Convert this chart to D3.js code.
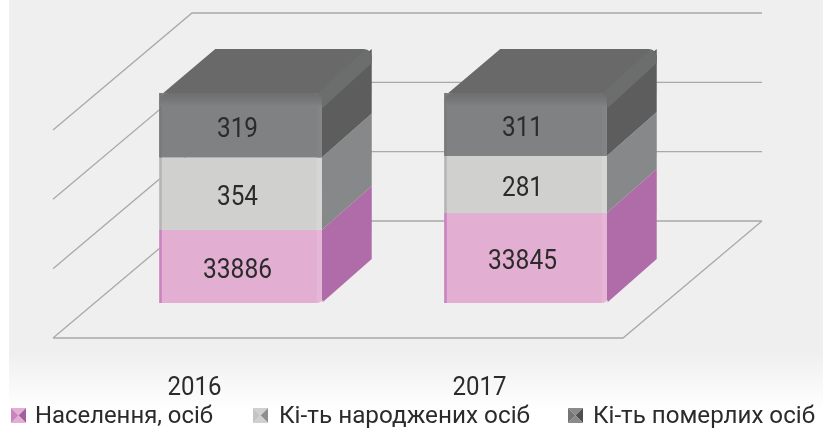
<!DOCTYPE html>
<html><head><meta charset="utf-8">
<script src="https://cdn.jsdelivr.net/npm/d3@7"></script>
<style>html,body{margin:0;padding:0;background:#fff;overflow:hidden}svg{display:block;filter:blur(.5px)}</style>
</head><body><div id="c"></div>
<script>
const categories=["2016","2017"];
const seriesNames=["Населення, осіб","Кі-ть народжених осіб","Кі-ть померлих осіб"];
const population=[33886,33845];
const births=[354,281];
const deaths=[319,311];
// the reference's bars are full-height stacks whose segments do not follow the printed labels;
// these are the segment shares (%)
const populationShare=[34.8,42.9];
const birthsShare=[34.5,27.1];
const deathsShare=[30.7,30.0];
const gridLevels=[0,1,2,3];
const W=823,H=429;
const svg=d3.select("#c").append("svg").attr("width",W).attr("height",H);
const defs=svg.append("defs");
const bg=defs.append("linearGradient").attr("id","bg").attr("x1",0).attr("x2",0).attr("y1",0).attr("y2",1);
bg.append("stop").attr("offset",.82).attr("stop-color","#efefef");
bg.append("stop").attr("offset",.96).attr("stop-color","#ffffff");
const bevel=defs.append("linearGradient").attr("id","bevel").attr("x1",0).attr("x2",0).attr("y1",0).attr("y2",1);
bevel.append("stop").attr("offset",0).attr("stop-color","#6d6e6e");
bevel.append("stop").attr("offset",.5).attr("stop-color","#757676");
bevel.append("stop").attr("offset",1).attr("stop-color","#808182");
svg.append("rect").attr("x",9).attr("y",0).attr("width",W-9).attr("height",H).attr("fill","url(#bg)");

const x=d3.scaleBand().domain(categories).range([53,623]).paddingInner(.43).paddingOuter(.215);
const y=d3.scaleLinear().domain([0,100]).range([303,93]);
const gy=d3.scaleLinear().domain([0,3]).range([221,13]);
const dx=139,dy=117,bx=50,by=44,off=45;
const FONT="Roboto";

const grid=svg.append("g").attr("stroke","#a9a9a9").attr("stroke-width",1.3).attr("fill","none");
gridLevels.forEach(l=>{
  const yy=gy(l);
  grid.append("path").attr("d",`M${53},${yy+dy}L${53+dx},${yy}L${623+dx},${yy}`);
});
grid.append("path").attr("d",`M53,${gy(0)+dy}L623,${gy(0)+dy}L${623+dx},${gy(0)}`);

const series=[
 {share:populationShare,label:population,front:"#e2aed1",side:"#b06ca8",edge:"#c884bf",hi:"#e6b6d6"},
 {share:birthsShare,label:births,front:"#d0d0cf",side:"#87888a",edge:"#b5b5b5",hi:"#d6d6d5"},
 {share:deathsShare,label:deaths,front:"#808182",side:"#5d5d5d",edge:"#787979",hi:"#838485"}
];
const stack=categories.map((c,i)=>{let acc=0;return series.map((s,k)=>{const a=acc;acc+=s.share[i];return {c,i,k,s,a,b:acc,label:s.label[i]};});});
const g=svg.append("g");
stack.forEach(col=>{
  const cg=g.append("g");
  const L=x(col[0].c)+off,w=x.bandwidth(),R=L+w;
  const yt=y(100),yb=y(0);
  col.forEach(d=>{
    const y0=y(d.a),y1=y(d.b);
    cg.append("path").attr("fill",d.s.side).attr("d",`M${R},${y0}L${R+bx},${y0-by}L${R+bx},${y1-by}L${R},${y1}Z`);
    cg.append("rect").attr("x",L).attr("y",y1).attr("width",w).attr("height",y0-y1).attr("fill",d.s.front);
    cg.append("rect").attr("x",L).attr("y",y1).attr("width",2.5).attr("height",y0-y1).attr("fill",d.s.edge);
    cg.append("rect").attr("x",R-5).attr("y",y1).attr("width",5).attr("height",y0-y1).attr("fill",d.s.hi);
  });
  // top face
  cg.append("path").attr("fill","#696969").attr("d",`M${L+4},${yt}L${L+bx+6},${yt-by}L${R+bx-8},${yt-by}Q${R+bx},${yt-by} ${R+bx},${yt-by+10}L${R+4},${yt+6}L${R-4},${yt}Z`);
  // bevel along the right-hand top edge
  cg.append("path").attr("fill","#6c6d6d").attr("d",`M${R-5},${yt+1}L${R+bx-7},${yt-by+1}Q${R+bx},${yt-by+1} ${R+bx},${yt-by+10}L${R+bx},${yt-by+14}L${R+1},${yt+15}Z`);
  // bevel along the front top edge
  cg.append("path").attr("fill","url(#bevel)").attr("d",`M${L},${yt+13}L${L},${yt+10}Q${L},${yt} ${L+10},${yt}L${R-8},${yt}Q${R},${yt} ${R},${yt+8}L${R},${yt+13}Z`);
  // soft rounding at the foot of the bar
  cg.append("path").attr("fill","#efefef").attr("d",`M${R-6},${yb+.5}L${R+1},${yb+.5}L${R+1},${yb-3}Q${R-1},${yb-.5} ${R-6},${yb+.5}Z`);
  col.forEach(d=>{
    const y0=y(d.a),y1=y(d.b);
    const s=String(d.label);
    cg.append("text").attr("x",L+w/2-3).attr("y",(y0+y1)/2+11.5).attr("text-anchor","middle")
      .attr("font-family",FONT).attr("font-size",27).attr("fill","#2b2b2b")
      .attr("textLength",s.length>3?69:41).attr("lengthAdjust","spacingAndGlyphs").text(s);
  });
});
const ax=svg.append("g").attr("transform","translate(-1,395)").call(d3.axisBottom(x).tickSize(0).tickPadding(0));
ax.select(".domain").remove();
ax.selectAll("text").attr("font-family",FONT).attr("font-size",26).attr("fill","#2b2b2b").attr("dy",0)
  .attr("textLength",54).attr("lengthAdjust","spacingAndGlyphs");

const legendX=[11,253,568];
const legendTextX=[35,279,593];
const legendLen=[178,251,222];
const swatchSide=[["#c884bf","#a35f9e","#e2aed1"],["#c4c4c4","#8f8f8f","#d0d0cf"],["#747575","#4f4f4f","#8a8a8a"]];
const lg=svg.append("g");
seriesNames.forEach((n,i)=>{
  const sx=legendX[i],sy=408,sz=15,[mid,dark,light]=swatchSide[i];
  const c=[sx+sz/2,sy+sz/2];
  const cs=[[sx,sy],[sx+sz,sy],[sx+sz,sy+sz],[sx,sy+sz]];
  [light,dark,light,mid].forEach((col,k)=>{
    const a=cs[k],b=cs[(k+1)%4];
    lg.append("path").attr("fill",col).attr("d",`M${a}L${b}L${c}Z`);
  });
  lg.append("text").attr("x",legendTextX[i]).attr("y",423).attr("font-family",FONT).attr("font-size",23).attr("fill","#2b2b2b")
    .attr("textLength",legendLen[i]).attr("lengthAdjust","spacingAndGlyphs").text(n);
});
</script></body></html>
